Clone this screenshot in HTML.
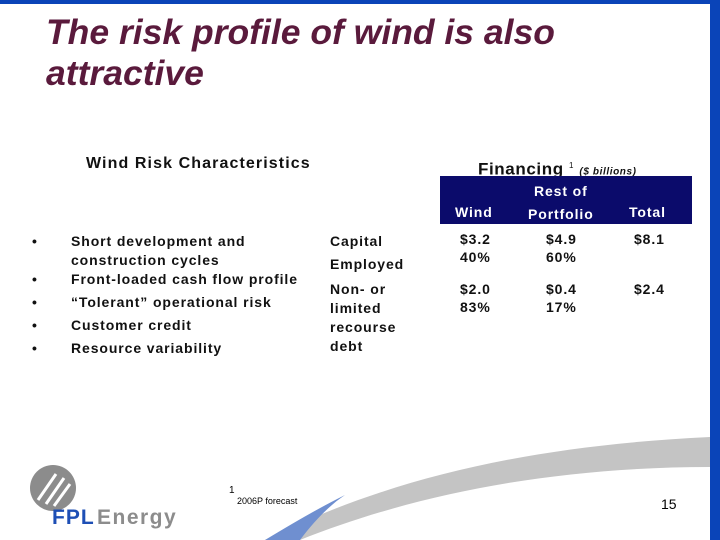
<!DOCTYPE html>
<html><head><meta charset="utf-8"><style>
body{margin:0}
#s{position:relative;width:720px;height:540px;background:#fff;overflow:hidden;font-family:"Liberation Sans",Arial,sans-serif}
.a{position:absolute;white-space:nowrap}
.b{font-weight:bold;color:#111;font-size:14px;line-height:19px;letter-spacing:0.9px}
</style></head><body>
<div id="s">
<div class="a" style="left:0;top:0;width:720px;height:4px;background:#0a44b8"></div>
<div class="a" style="left:710px;top:0;width:10px;height:540px;background:#0a44b8"></div>
<svg class="a" style="left:0;top:0" width="720" height="540">
<path d="M265 540 C380 482 520 446 710 437 L710 467 C560 467 420 492 300 540 Z" fill="#c4c4c4"/>
<path d="M265 540 C290 525 315 510 345 495 C330 505 315 520 300 540 Z" fill="#6f8fd0"/>
</svg>
<div class="a" style="left:46px;top:12px;font-size:35.5px;line-height:41px;font-weight:bold;font-style:italic;color:#5a1a3c;white-space:normal;width:620px">The risk profile of wind is also attractive</div>
<div class="a b" style="left:86px;top:154px;font-size:16px;letter-spacing:1.1px">Wind Risk Characteristics</div>
<div class="a b" style="left:32px;top:230px;line-height:23px">
<div>•<span style="position:absolute;left:39px">Short development and</span></div>
<div style="height:19px;margin-top:-4px"><span style="position:absolute;left:39px">construction cycles</span></div>
<div>•<span style="position:absolute;left:39px">Front-loaded cash flow profile</span></div>
<div>•<span style="position:absolute;left:39px">“Tolerant” operational risk</span></div>
<div>•<span style="position:absolute;left:39px">Customer credit</span></div>
<div>•<span style="position:absolute;left:39px">Resource variability</span></div>
</div>
<div class="a b" style="left:478px;top:156px;font-size:17px;letter-spacing:0.6px">Financing <sup style="font-size:8px;font-weight:normal">1</sup> <i style="font-size:10px">($ billions)</i></div>
<div class="a" style="left:440px;top:176px;width:252px;height:48px;background:#0b0b6b"></div>
<div class="a b" style="left:455px;top:203px;color:#fff">Wind</div>
<div class="a b" style="left:528px;top:180px;color:#fff;text-align:center;line-height:23px">Rest of<br>Portfolio</div>
<div class="a b" style="left:629px;top:203px;color:#fff">Total</div>
<div class="a b" style="left:330px;top:230px;line-height:23px">Capital<br>Employed</div>
<div class="a b" style="left:460px;top:230px;line-height:18px">$3.2<br>40%</div>
<div class="a b" style="left:546px;top:230px;line-height:18px">$4.9<br>60%</div>
<div class="a b" style="left:634px;top:230px">$8.1</div>
<div class="a b" style="left:330px;top:280px">Non- or<br>limited<br>recourse<br>debt</div>
<div class="a b" style="left:460px;top:280px;line-height:18px">$2.0<br>83%</div>
<div class="a b" style="left:546px;top:280px;line-height:18px">$0.4<br>17%</div>
<div class="a b" style="left:634px;top:280px">$2.4</div>
<div class="a" style="left:229px;top:486px;font-size:10px;line-height:10px">1<br><span style="margin-left:8px;font-size:9px">2006P forecast</span></div>
<div class="a" style="left:661px;top:496px;font-size:14px">15</div>
<svg class="a" style="left:26px;top:460px" width="160" height="70">
<circle cx="27" cy="28" r="23" fill="#8c8c8c"/>
<path d="M12 40 L30 14 M20 44 L38 18 M28 46 L44 24" stroke="#fff" stroke-width="3" fill="none"/>
<text x="26" y="64" font-family="Liberation Sans,Arial,sans-serif" font-weight="bold" font-size="21" letter-spacing="1" fill="#1e4fb5">FPL</text>
<text x="71" y="64" font-family="Liberation Sans,Arial,sans-serif" font-weight="bold" font-size="21" letter-spacing="1.5" fill="#8c8c8c">Energy</text>
</svg>
</div>
</body></html>
